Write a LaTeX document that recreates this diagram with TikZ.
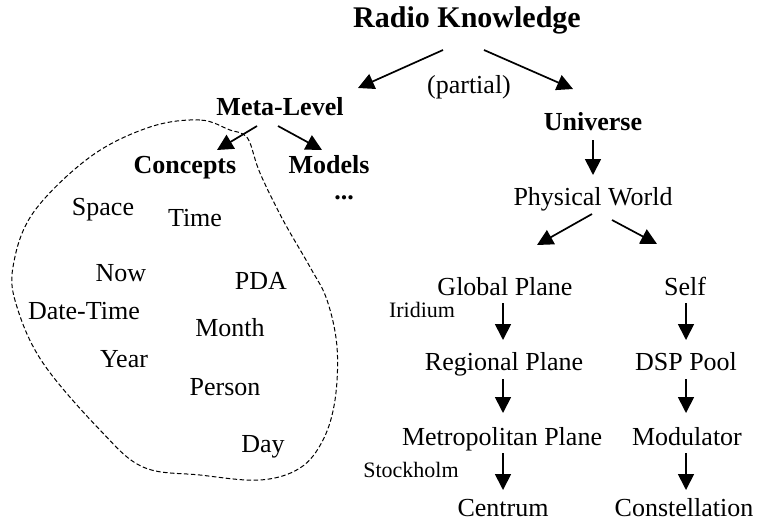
\documentclass[tikz,border=0pt]{standalone}
\usepackage{fontspec}
\setmainfont{Liberation Serif}
\usetikzlibrary{arrows.meta}
\begin{document}
\begin{tikzpicture}[x=1pt,y=-1pt,
  lbl/.style={inner sep=0pt,anchor=base,font=\fontsize{26}{30}\selectfont},
  blbl/.style={lbl,font=\fontsize{26}{30}\selectfont\bfseries},
  ttl/.style={lbl,font=\fontsize{30}{34}\selectfont\bfseries},
  small/.style={lbl,font=\fontsize{22}{26}\selectfont},
  arr/.style={line width=1.7pt,-{Triangle[length=16pt,width=16pt]}},
  blob/.style={line width=1pt,dash pattern=on 4.5pt off 2.5pt}]
\useasboundingbox (0,0) rectangle (759,523);
% right tree
\node[ttl] (rk) at (467,27) {Radio Knowledge};
\node[lbl] (partial) at (469,93) {(partial)};
\node[blbl] (uni) at (593,130) {Universe};
\node[lbl] (pw) at (593,205) {Physical World};
\node[lbl] (gp) at (505,295) {Global Plane};
\node[lbl] (self) at (685,295) {Self};
\node[small] (irid) at (422,317) {Iridium};
\node[lbl] (rp) at (504,370) {Regional Plane};
\node[lbl] (dsp) at (686,370) {DSP Pool};
\node[lbl] (mp) at (502,445) {Metropolitan Plane};
\node[lbl] (mod) at (687,445) {Modulator};
\node[small] (sthlm) at (411,477) {Stockholm};
\node[lbl] (cen) at (503,516) {Centrum};
\node[lbl] (con) at (684,516) {Constellation};
% left tree
\node[blbl] (ml) at (280,115) {Meta-Level};
\node[blbl] (conc) at (185,173) {Concepts};
\node[blbl] (models) at (329,173) {Models};
\node[blbl] (dots) at (344,199) {...};
\node[lbl] (space) at (103,215) {Space};
\node[lbl] (time) at (195,226) {Time};
\node[lbl] (now) at (121,281) {Now};
\node[lbl] (pda) at (261,289) {PDA};
\node[lbl] (dt) at (84,319) {Date-Time};
\node[lbl] (month) at (230,336) {Month};
\node[lbl] (year) at (124,367) {Year};
\node[lbl] (person) at (225,395) {Person};
\node[lbl] (day) at (263,452) {Day};
% arrows
\draw[arr] ([shift={(-24,23)}]rk.base) -- ([shift={(78,-27)}]ml.base);
\draw[arr] ([shift={(17,23)}]rk.base) -- ([shift={(-20,-41)}]uni.base);
\draw[arr] ([shift={(0,10)}]uni.base) -- ([shift={(0,-30)}]pw.base);
\draw[arr] ([shift={(-1,9)}]pw.base) -- ([shift={(32,-50)}]gp.base);
\draw[arr] ([shift={(19,15)}]pw.base) -- ([shift={(-28,-51)}]self.base);
\draw[arr] ([shift={(-2,8)}]gp.base) -- ([shift={(-1,-30)}]rp.base);
\draw[arr] ([shift={(1,8)}]self.base) -- ([shift={(0,-30)}]dsp.base);
\draw[arr] ([shift={(-1,9)}]rp.base) -- ([shift={(1,-32)}]mp.base);
\draw[arr] ([shift={(0,9)}]dsp.base) -- ([shift={(-1,-32)}]mod.base);
\draw[arr] ([shift={(1,8)}]mp.base) -- ([shift={(0,-26)}]cen.base);
\draw[arr] ([shift={(-1,8)}]mod.base) -- ([shift={(2,-26)}]con.base);
\draw[arr] ([shift={(-23,11)}]ml.base) -- ([shift={(32,-23)}]conc.base);
\draw[arr] ([shift={(-2,11)}]ml.base) -- ([shift={(-7,-23)}]models.base);
% dashed region
\draw[blob] plot[smooth cycle,tension=0.6] coordinates {
  (230,130) (200,120) (150,127) (90,157) (33,213) (13,267) (17,307)
  (43,363) (100,430) (143,467) (200,475) (260,480) (300,468) (323,440)
  (335,400) (337,347) (327,300) (310,267) (283,220) (260,173) (250,143) (243,134)};
\end{tikzpicture}
\end{document}
